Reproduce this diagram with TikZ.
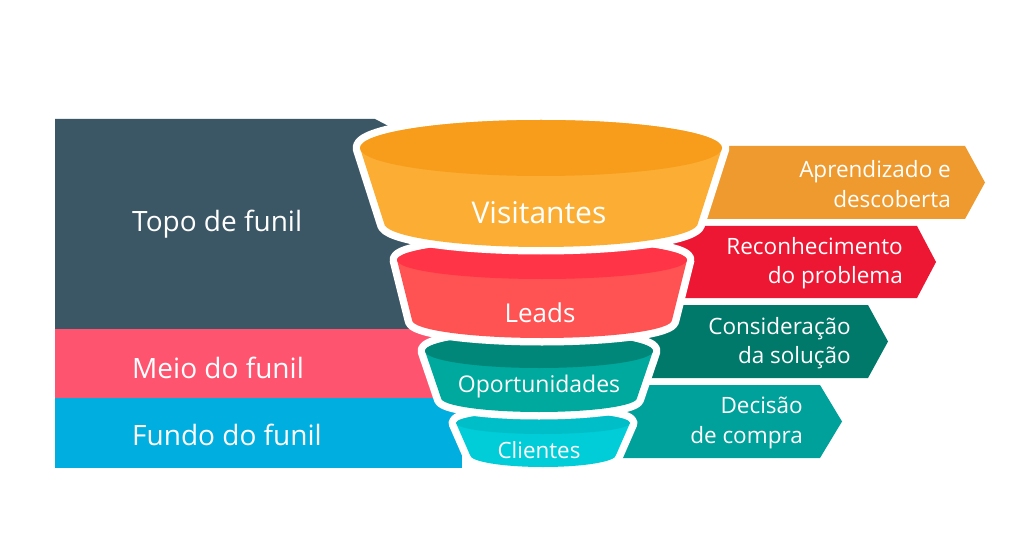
\documentclass[tikz,border=0pt]{standalone}
\usepackage{fontspec}
\setmainfont{Open Sans}
\definecolor{cdark}{HTML}{3B5664}
\definecolor{cpink}{HTML}{FF5470}
\definecolor{cblue}{HTML}{00AEE0}
\definecolor{aone}{HTML}{EE9A2E}
\definecolor{atwo}{HTML}{EE1733}
\definecolor{athree}{HTML}{00796B}
\definecolor{afour}{HTML}{00A19A}
\definecolor{vtop}{HTML}{F89C1C}
\definecolor{vbody}{HTML}{FBAE33}
\definecolor{ltop}{HTML}{FF3446}
\definecolor{lbody}{HTML}{FF5252}
\definecolor{otop}{HTML}{00877A}
\definecolor{obody}{HTML}{00A99D}
\definecolor{ctop}{HTML}{00BEC8}
\definecolor{cbody}{HTML}{00CDD8}
\tikzset{
  sidelbl/.style={text=white, anchor=west, inner sep=0pt, font=\fontsize{28}{32}\selectfont},
  arrlbl/.style={text=white, anchor=east, align=right, inner sep=0pt, font=\fontsize{22.5}{29.5}\selectfont},
  funlbl/.style={text=white, inner sep=0pt},
  whiteedge/.style={draw=white, line width=15pt, line join=round},
}
% layer: cx, yt, rt, ryt, yb, rb, ryb, topcolor, bodycolor
\newcommand{\funlayer}[9]{%
  \draw[whiteedge] (#1-#3,#2) arc[start angle=180, end angle=360, x radius=#3, y radius=#4]
     -- (#1+#6,#5) arc[start angle=0, end angle=180, x radius=#6, y radius=#7] -- cycle;
  \fill[#9] (#1-#3,#2) arc[start angle=180, end angle=360, x radius=#3, y radius=#4]
     -- (#1+#6,#5) arc[start angle=0, end angle=180, x radius=#6, y radius=#7] -- cycle;
  \fill[#8] (#1,#2) ellipse[x radius=#3, y radius=#4];
}
\begin{document}
\begin{tikzpicture}[x=1pt,y=-1pt]
\useasboundingbox[fill=white] (0,0) rectangle (1024,537);
% left stage blocks
\fill[cdark] (55,119) -- (375,119) -- (415,140) -- (415,329) -- (55,329) -- cycle;
\fill[cpink] (55,329) rectangle (440,398);
\fill[cblue] (55,398) rectangle (462,468);
\node[sidelbl] (topo) at (132,224) {Topo de funil};
\node[sidelbl] (meio) at (132,368) {Meio do funil};
\node[sidelbl] (fundo) at (132,435) {Fundo do funil};
% right arrows
\fill[aone] (650,146) -- (965,146) -- (985,182.5) -- (965,219) -- (650,219) -- cycle;
\fill[atwo] (640,226) -- (917,226) -- (936,262) -- (917,298) -- (640,298) -- cycle;
\fill[athree] (600,305) -- (868,305) -- (888,341.5) -- (868,378) -- (600,378) -- cycle;
\fill[afour] (580,385) -- (820,385) -- (842,421.5) -- (820,458) -- (580,458) -- cycle;
\node[arrlbl] (apr) at (951,184) {Aprendizado e\\descoberta};
\node[arrlbl] (rec) at (903,263) {Reconhecimento\\do problema};
\node[arrlbl] (con) at (851,343) {Consideração\\da solução};
\node[arrlbl] (dec) at (803,423) {Decisão\\de compra};
% funnel layers, bottom first
\funlayer{543}{423}{87}{11}{455}{73}{12}{ctop}{cbody}
\funlayer{539}{351}{114}{17}{398}{98}{14}{otop}{obody}
\funlayer{542}{260}{145}{19}{320}{130}{18}{ltop}{lbody}
\funlayer{541}{148}{181}{28}{223}{157}{24}{vtop}{vbody}
\node[funlbl, font=\fontsize{30}{34}\selectfont] (vis) at (539,213) {Visitantes};
\node[funlbl, font=\fontsize{26}{30}\selectfont] (lea) at (540,313) {Leads};
\node[funlbl, font=\fontsize{23}{27}\selectfont] (opo) at (539,387) {Oportunidades};
\node[funlbl, font=\fontsize{22.4}{26}\selectfont] (cli) at (539,450) {Clientes};
\end{tikzpicture}
\end{document}
